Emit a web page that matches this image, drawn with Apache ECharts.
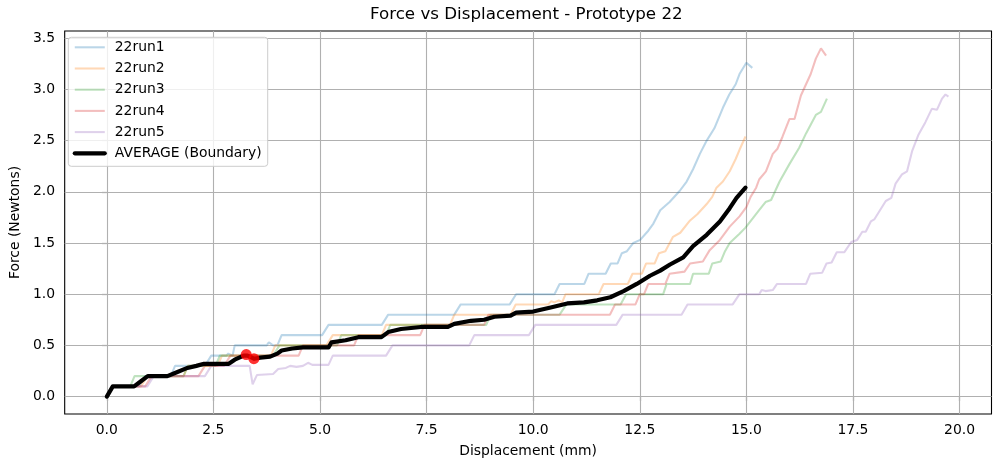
<!DOCTYPE html>
<html><head><meta charset="utf-8">
<script src="https://cdn.jsdelivr.net/npm/echarts@6/dist/echarts.min.js"></script>
<style>html,body{margin:0;padding:0;background:#fff}#c{width:1001px;height:468px}</style>
</head><body><div id="c"></div>
<script>
const chartTitle = 'Force vs Displacement - Prototype 22';
const xAxisName = 'Displacement (mm)';
const yAxisName = 'Force (Newtons)';
const xTicks = [0, 2.5, 5, 7.5, 10, 12.5, 15, 17.5, 20];
const yTicks = [0, 0.5, 1, 1.5, 2, 2.5, 3, 3.5];
const runNames = ['22run1', '22run2', '22run3', '22run4', '22run5'];
const averageName = 'AVERAGE (Boundary)';

const run1 = [[0,0],[0.15,0.1],[0.75,0.1],[0.9,0.2],[1.5,0.2],[1.6,0.3],[2.3,0.3],[2.45,0.4],[2.8,0.4],[2.85,0.42],[2.95,0.4],[3.0,0.5],[3.75,0.5],[3.8,0.53],[3.9,0.5],[4.0,0.5],[4.1,0.6],[5.05,0.6],[5.2,0.7],[6.45,0.7],[6.6,0.8],[8.15,0.8],[8.3,0.9],[9.45,0.9],[9.6,1.0],[10.5,1.0],[10.62,1.1],[11.2,1.1],[11.3,1.2],[11.7,1.2],[11.82,1.3],[11.98,1.3],[12.08,1.4],[12.2,1.42],[12.35,1.5],[12.51,1.53],[12.7,1.62],[12.82,1.69],[12.98,1.82],[13.2,1.9],[13.44,2.01],[13.6,2.1],[13.75,2.22],[13.91,2.37],[14.07,2.5],[14.25,2.62],[14.45,2.82],[14.6,2.95],[14.75,3.05],[14.84,3.15],[15.0,3.26],[15.14,3.21]];
const run2 = [[0,0],[0.15,0.1],[0.8,0.1],[0.95,0.2],[1.8,0.2],[1.9,0.3],[2.6,0.3],[2.7,0.4],[3.85,0.4],[3.95,0.5],[5.15,0.5],[5.3,0.6],[6.45,0.6],[6.55,0.7],[8.05,0.7],[8.15,0.8],[9.47,0.8],[9.59,0.9],[10.35,0.9],[10.42,0.93],[10.5,0.92],[10.6,0.94],[10.68,0.92],[10.76,1.0],[11.54,1.0],[11.65,1.1],[12.22,1.1],[12.33,1.2],[12.55,1.2],[12.65,1.3],[12.85,1.3],[12.95,1.4],[13.1,1.42],[13.28,1.56],[13.45,1.6],[13.68,1.72],[13.85,1.78],[14.07,1.88],[14.2,1.95],[14.3,2.04],[14.45,2.1],[14.61,2.2],[14.75,2.32],[14.84,2.41],[14.98,2.54]];
const run3 = [[0,0],[0.15,0.1],[0.55,0.1],[0.65,0.2],[1.8,0.2],[1.9,0.3],[2.55,0.3],[2.65,0.4],[3.9,0.4],[4.05,0.5],[5.4,0.5],[5.5,0.6],[6.55,0.6],[6.65,0.7],[8.9,0.7],[9.0,0.8],[10.62,0.8],[10.78,0.9],[12.05,0.9],[12.18,1.0],[13.05,1.0],[13.13,1.1],[13.68,1.1],[13.75,1.2],[14.12,1.2],[14.2,1.3],[14.4,1.32],[14.5,1.42],[14.61,1.5],[14.84,1.59],[14.98,1.65],[15.15,1.74],[15.3,1.82],[15.45,1.9],[15.58,1.92],[15.78,2.1],[16.01,2.27],[16.24,2.43],[16.4,2.57],[16.63,2.75],[16.75,2.78],[16.89,2.91]];
const run4 = [[0,0],[0.15,0.1],[0.9,0.1],[1.05,0.2],[2.15,0.2],[2.3,0.3],[2.75,0.3],[2.9,0.4],[4.5,0.4],[4.6,0.5],[5.8,0.5],[5.9,0.6],[7.35,0.6],[7.45,0.7],[8.85,0.7],[8.95,0.8],[11.8,0.8],[11.92,0.9],[12.4,0.9],[12.5,1.0],[12.6,1.0],[12.7,1.1],[13.1,1.1],[13.2,1.2],[13.55,1.22],[13.68,1.3],[13.98,1.32],[14.14,1.43],[14.38,1.53],[14.61,1.66],[14.84,1.76],[15.0,1.85],[15.1,1.95],[15.23,2.04],[15.3,2.12],[15.46,2.2],[15.62,2.37],[15.73,2.42],[15.85,2.54],[16.01,2.71],[16.13,2.71],[16.28,2.94],[16.4,3.05],[16.51,3.15],[16.63,3.3],[16.75,3.4],[16.87,3.33]];
const run5 = [[0,0],[0.15,0.1],[0.95,0.1],[1.1,0.2],[2.3,0.2],[2.45,0.3],[3.35,0.3],[3.42,0.12],[3.52,0.21],[3.9,0.22],[4.02,0.27],[4.2,0.28],[4.3,0.3],[4.45,0.29],[4.6,0.3],[4.72,0.33],[4.82,0.31],[5.2,0.31],[5.3,0.4],[6.55,0.4],[6.7,0.5],[8.5,0.5],[8.62,0.6],[9.9,0.6],[10.05,0.7],[11.95,0.7],[12.1,0.8],[13.48,0.8],[13.62,0.9],[14.68,0.9],[14.84,1.0],[15.3,1.0],[15.36,1.04],[15.45,1.03],[15.62,1.04],[15.72,1.1],[16.4,1.1],[16.5,1.2],[16.78,1.21],[16.88,1.3],[17.0,1.31],[17.12,1.41],[17.3,1.41],[17.46,1.51],[17.6,1.53],[17.72,1.61],[17.8,1.61],[17.92,1.71],[18.0,1.73],[18.27,1.91],[18.4,1.94],[18.5,2.08],[18.65,2.17],[18.77,2.2],[18.89,2.4],[19.04,2.56],[19.2,2.68],[19.35,2.81],[19.47,2.8],[19.59,2.91],[19.67,2.95],[19.74,2.93]];
const average = [[0,0],[0.14,0.1],[0.64,0.1],[0.8,0.15],[0.96,0.2],[1.42,0.2],[1.6,0.23],[1.89,0.28],[2.1,0.3],[2.28,0.32],[2.86,0.32],[3.0,0.36],[3.21,0.4],[3.3,0.4],[3.45,0.37],[3.6,0.38],[3.83,0.39],[4.0,0.42],[4.1,0.45],[4.35,0.47],[4.6,0.48],[5.2,0.48],[5.27,0.53],[5.6,0.55],[5.9,0.58],[6.44,0.58],[6.6,0.63],[6.9,0.66],[7.37,0.68],[8.0,0.68],[8.15,0.71],[8.54,0.74],[8.85,0.75],[9.09,0.78],[9.47,0.79],[9.6,0.82],[10.0,0.83],[10.41,0.87],[10.8,0.91],[11.19,0.92],[11.5,0.94],[11.81,0.97],[12.12,1.03],[12.43,1.1],[12.74,1.18],[12.98,1.23],[13.21,1.29],[13.52,1.36],[13.75,1.47],[14.07,1.58],[14.38,1.71],[14.61,1.84],[14.77,1.94],[14.98,2.04]];
const boundaryPoints = [[3.27,0.41],[3.45,0.37]];

const runs = [run1, run2, run3, run4, run5];
const runColors = ['#1f77b4', '#ff7f0e', '#2ca02c', '#d62728', '#9467bd'];
const FONT = 'DejaVu Sans';

const series = [];
series.push({
  type: 'line', data: [], silent: true, z: 0,
  markLine: {
    z: 1, silent: true, animation: false, symbol: ['none', 'none'],
    label: { show: false }, emphasis: { disabled: true },
    lineStyle: { color: '#b0b0b0', width: 1.1, type: 'solid' },
    data: xTicks.map(v => ({ xAxis: v })).concat(yTicks.map(v => ({ yAxis: v })))
  }
});
runs.forEach((r, i) => {
  series.push({
    name: runNames[i], type: 'line', data: r, symbol: 'none', z: 2,
    color: runColors[i],
    lineStyle: { color: runColors[i], width: 2.08, opacity: 0.3 },
    emphasis: { disabled: true }
  });
});
series.push({
  name: averageName, type: 'line', data: average, symbol: 'none', z: 3,
  color: '#000',
  lineStyle: { color: '#000', width: 4.17, opacity: 1, join: 'round', cap: 'round' },
  emphasis: { disabled: true }
});
series.push({
  type: 'scatter', data: boundaryPoints, symbol: 'circle', symbolSize: 11, z: 4,
  itemStyle: { color: '#ff0000' }, emphasis: { disabled: true }, silent: true
});

const legendData = runNames.map((n, i) => ({
  name: n, lineStyle: { width: 2.08, color: runColors[i], opacity: 0.3 }
})).concat([{ name: averageName, lineStyle: { width: 4.17, color: '#000', opacity: 1 } }]);

const chart = echarts.init(document.getElementById('c'), null, { renderer: 'canvas' });
chart.setOption({
  animation: false,
  backgroundColor: '#fff',
  title: {
    text: chartTitle, left: 526.3, top: 6, textAlign: 'center', padding: 0,
    textStyle: { fontFamily: FONT, fontSize: 16.7, fontWeight: 'normal', color: '#000' }
  },
  legend: {
    data: legendData,
    orient: 'vertical', left: 68.3, top: 37.3,
    padding: [3, 6, 6, 4.4],
    itemWidth: 30, itemHeight: 14, itemGap: 7.2,
    itemStyle: { opacity: 0, borderWidth: 0 },
    backgroundColor: 'rgba(255,255,255,0.8)', borderColor: '#cccccc', borderWidth: 1, borderRadius: 3,
    textStyle: { fontFamily: FONT, fontSize: 13.9, color: '#000', padding: [0, 0, 0, 5] },
    selectedMode: false
  },
  grid: { left: 61, top: 31, width: 930.5, height: 383, show: true, borderColor: '#000', borderWidth: 1.1, backgroundColor: 'transparent', containLabel: false },
  xAxis: {
    type: 'value', min: -0.988, max: 20.75,
    name: xAxisName, nameLocation: 'middle', nameGap: 30,
    nameTextStyle: { fontFamily: FONT, fontSize: 13.9, color: '#000' },
    axisLine: { show: false },
    axisTick: { show: true, customValues: xTicks, length: 4.86, lineStyle: { color: '#000', width: 1.1 } },
    axisLabel: { customValues: xTicks, margin: 9.7, fontFamily: FONT, fontSize: 13.9, color: '#000', formatter: v => v.toFixed(1) },
    splitLine: { show: false }
  },
  yAxis: {
    type: 'value', min: -0.17, max: 3.57,
    name: yAxisName, nameLocation: 'middle', nameGap: 37,
    nameTextStyle: { fontFamily: FONT, fontSize: 13.9, color: '#000' },
    axisLine: { show: false },
    axisTick: { show: true, customValues: yTicks, length: 4.86, lineStyle: { color: '#000', width: 1.1 } },
    axisLabel: { customValues: yTicks, margin: 9.7, fontFamily: FONT, fontSize: 13.9, color: '#000', formatter: v => v.toFixed(1) },
    splitLine: { show: false }
  },
  series: series
});
</script></body></html>
